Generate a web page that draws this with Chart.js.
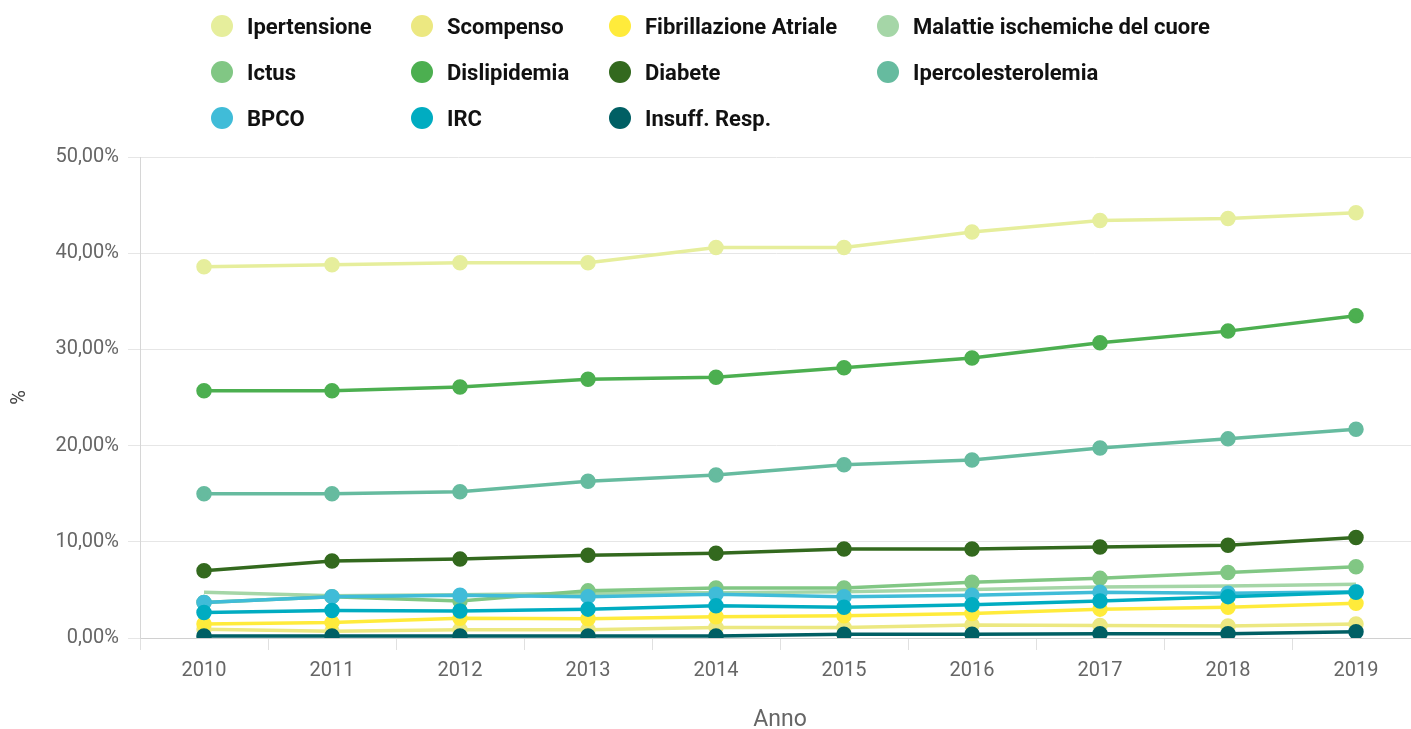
<!DOCTYPE html>
<html>
<head>
<meta charset="utf-8">
<script src="https://cdn.jsdelivr.net/npm/chart.js@4"></script>
<style>
  html, body { margin: 0; padding: 0; background: #fff; overflow: hidden; }
  #wrap { position: relative; width: 1411px; height: 729px; }
  #chart { display: block; }
  #legend {
    position: absolute; left: 211px; top: 3px; width: 1100px;
    display: grid; grid-template-columns: 200px 198px 268px 320px;
    row-gap: 0; font-family: Roboto, sans-serif; font-weight: bold; font-size: 22px; color: #111;
    white-space: nowrap;
  }
  .item { display: flex; align-items: center; height: 46px; }
  .dot { width: 22px; height: 22px; border-radius: 50%; margin-right: 14px; flex: none; }
</style>
</head>
<body>
<div id="wrap">
  <canvas id="chart" width="1411" height="729"></canvas>
  <div id="legend"></div>
</div>
<script>
const years = ['2010','2011','2012','2013','2014','2015','2016','2017','2018','2019'];

const seriesNames = ['Ipertensione','Scompenso','Fibrillazione Atriale','Malattie ischemiche del cuore',
  'Ictus','Dislipidemia','Diabete','Ipercolesterolemia','BPCO','IRC','Insuff. Resp.'];

const colors = ['#e6ee9c','#ece881','#ffeb3b','#a5d6a7','#81c784','#4caf50','#33691e','#66bb9f','#40bcd8','#00acc1','#005f64'];

const ipertensione = [38.6, 38.8, 39.0, 39.0, 40.6, 40.6, 42.2, 43.4, 43.6, 44.2];
const scompenso = [0.9, 0.7, 0.85, 0.85, 1.1, 1.1, 1.35, 1.3, 1.25, 1.45];
const fibrillazione = [1.45, 1.6, 2.05, 2.0, 2.2, 2.3, 2.55, 3.0, 3.2, 3.6];
const malattieIsch = [4.75, 4.4, 4.5, 4.65, 4.7, 4.8, 5.05, 5.3, 5.4, 5.6];
const ictus = [3.7, 4.3, 3.85, 4.9, 5.2, 5.2, 5.8, 6.2, 6.8, 7.4];
const dislipidemia = [25.7, 25.7, 26.1, 26.9, 27.1, 28.1, 29.1, 30.7, 31.9, 33.5];
const diabete = [7.0, 8.0, 8.2, 8.6, 8.8, 9.25, 9.25, 9.45, 9.65, 10.45];
const ipercolesterolemia = [15.0, 15.0, 15.2, 16.3, 16.95, 18.0, 18.5, 19.75, 20.7, 21.7];
const bpco = [3.7, 4.3, 4.45, 4.3, 4.55, 4.3, 4.45, 4.75, 4.65, 4.8];
const irc = [2.65, 2.85, 2.8, 3.0, 3.35, 3.2, 3.45, 3.85, 4.3, 4.75];
const insuffResp = [0.2, 0.2, 0.2, 0.2, 0.2, 0.4, 0.4, 0.45, 0.45, 0.65];

const seriesValues = [ipertensione, scompenso, fibrillazione, malattieIsch, ictus, dislipidemia,
  diabete, ipercolesterolemia, bpco, irc, insuffResp];

// legend in 4 columns like the original
const legend = document.getElementById('legend');
seriesNames.forEach((name, i) => {
  const el = document.createElement('div');
  el.className = 'item';
  el.innerHTML = '<span class="dot" style="background:' + colors[i] + '"></span><span>' + name + '</span>';
  legend.appendChild(el);
});

// later series are painted on top
const datasets = seriesNames.map((name, i) => ({
  label: name,
  data: seriesValues[i],
  borderColor: colors[i],
  backgroundColor: colors[i],
  borderWidth: 3.5,
  pointRadius: name === 'Malattie ischemiche del cuore' ? 0 : 6,
  pointHoverRadius: 6,
  tension: 0,
  fill: false,
  order: -i
}));

// the original plot runs a bit past the right edge of the picture
const plotRight = 1420;
const stretchRight = {
  id: 'stretchRight',
  afterLayout(chart) {
    const x = chart.scales.x;
    x.right = plotRight;
    x.width = x.right - x.left;
    x.configure();
    chart.chartArea.right = plotRight;
    chart.chartArea.width = plotRight - chart.chartArea.left;
  }
};

Chart.defaults.font.family = 'Roboto, sans-serif';

new Chart(document.getElementById('chart'), {
  type: 'line',
  data: { labels: years, datasets: datasets },
  plugins: [stretchRight],
  options: {
    responsive: false,
    animation: false,
    layout: { padding: { top: 157, left: 0, right: 0, bottom: 0 } },
    plugins: { legend: { display: false }, tooltip: { enabled: false } },
    scales: {
      x: {
        offset: true,
        grid: { offset: true, drawOnChartArea: false, drawTicks: true, tickLength: 12, color: '#e0e0e0' },
        border: { color: '#d0d0d0', width: 1 },
        ticks: { color: '#666', font: { size: 20 }, padding: 9 },
        title: { display: true, text: 'Anno', color: '#666', font: { size: 23, lineHeight: 0.75 }, padding: { top: 0, bottom: 0 } },
        afterFit: (s) => { s.height = 91; }
      },
      y: {
        min: 0, max: 50,
        ticks: {
          stepSize: 10, color: '#666', font: { size: 20 }, padding: 9,
          callback: (v) => v.toFixed(2).replace('.', ',') + '%'
        },
        grid: { color: '#e6e6e6', tickLength: 12 },
        border: { color: '#d6d6d6' },
        title: { display: true, text: '%', color: '#444', font: { size: 20 }, padding: { top: 8, bottom: 0 } },
        afterFit: (s) => { s.width = 140; }
      }
    }
  }
});
</script>
</body>
</html>
